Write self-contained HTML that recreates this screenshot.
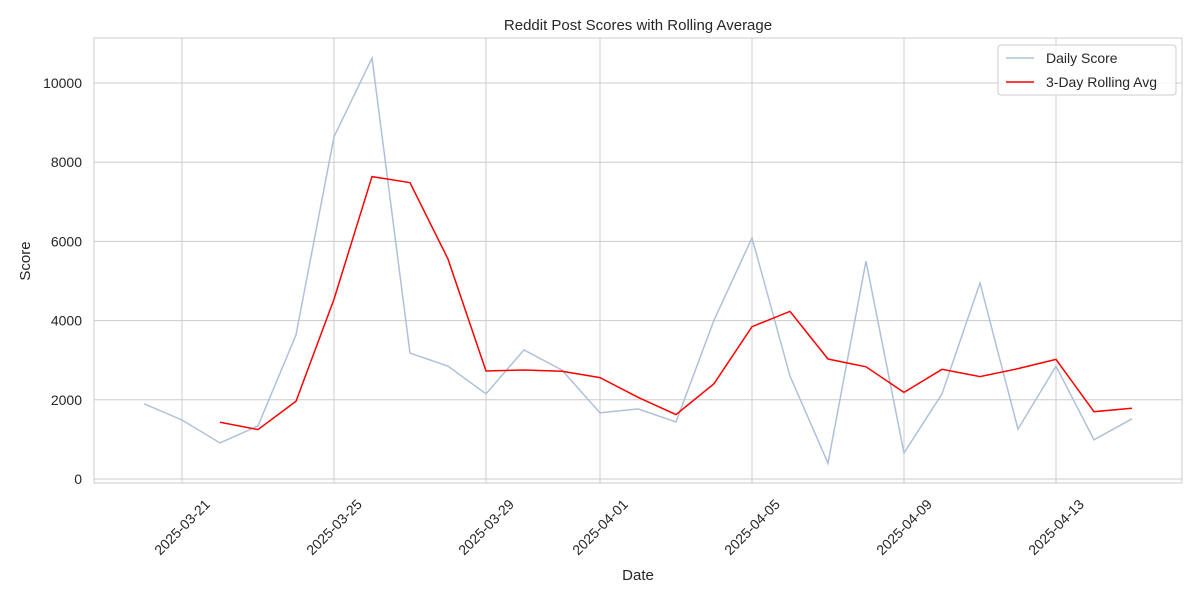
<!DOCTYPE html>
<html><head><meta charset="utf-8"><style>
body{margin:0;background:#fff;font-family:"Liberation Sans","DejaVu Sans",sans-serif;}
svg text{font-family:"Liberation Sans","DejaVu Sans",sans-serif;fill:#262626;}
</style></head><body>
<svg id="chart" width="1200" height="600" xmlns="http://www.w3.org/2000/svg">
<rect width="1200" height="600" fill="#fff"/>
<text x="638" y="30" font-size="15" text-anchor="middle">Reddit Post Scores with Rolling Average</text>
<g id="grid"></g>
<rect x="94" y="38" width="1088" height="445" fill="none" stroke="#ccc" stroke-width="1"/>
<g id="marks"></g>
<g id="axes"></g>
<text x="638" y="580" font-size="15" text-anchor="middle">Date</text>
<text x="30" y="261" font-size="15" text-anchor="middle" transform="rotate(-90 30 261)">Score</text>
<g>
<rect x="998" y="45" width="178" height="50" rx="3" fill="#fff" fill-opacity="0.8" stroke="#ccc"/>
<line x1="1006" y1="58" x2="1034" y2="58" stroke="#b0c0da" stroke-width="1.5"/>
<text x="1046" y="63" font-size="14">Daily Score</text>
<line x1="1006" y1="82" x2="1034" y2="82" stroke="#ff0000" stroke-width="1.5"/>
<text x="1046" y="87" font-size="14">3-Day Rolling Avg</text>
</g>
</svg>
<script>
const dates = ["2025-03-20","2025-03-21","2025-03-22","2025-03-23","2025-03-24","2025-03-25","2025-03-26","2025-03-27","2025-03-28","2025-03-29","2025-03-30","2025-03-31","2025-04-01","2025-04-02","2025-04-03","2025-04-04","2025-04-05","2025-04-06","2025-04-07","2025-04-08","2025-04-09","2025-04-10","2025-04-11","2025-04-12","2025-04-13","2025-04-14","2025-04-15"];
const dailyScores = [1900,1490,910,1340,3640,8640,10630,3180,2850,2150,3260,2750,1670,1770,1440,4010,6090,2600,400,5500,660,2150,4950,1260,2850,990,1520];
const xTickLabels = ["2025-03-21","2025-03-25","2025-03-29","2025-04-01","2025-04-05","2025-04-09","2025-04-13"];
const yTicks = [0,2000,4000,6000,8000,10000];

const NS="http://www.w3.org/2000/svg";
const t0=Date.parse(dates[0]);
function xs(d){return 144+(Date.parse(d)-t0)/86400000*38;}
function ys(v){return 479-v*0.0396;}
function mk(tag,attrs,parent){const e=document.createElementNS(NS,tag);for(const k in attrs)e.setAttribute(k,attrs[k]);parent.appendChild(e);return e;}
const grid=document.getElementById('grid'),marks=document.getElementById('marks'),axes=document.getElementById('axes');
yTicks.forEach(v=>{
  const y=ys(v);
  const l=mk('line',{x1:94,x2:1182,y1:y,y2:y,stroke:'#ccc','stroke-width':1},grid);
  
  
  const t=mk('text',{x:82,y:y+5,'font-size':14,'text-anchor':'end'},axes);
  t.textContent=v;
  
  
});
xTickLabels.forEach(d=>{
  const x=xs(d);
  const l=mk('line',{x1:x,x2:x,y1:38,y2:483,stroke:'#ccc','stroke-width':1},grid);
  
  
  const cy=532;
  const t=mk('text',{x:x,y:cy,'font-size':14,'text-anchor':'middle',transform:`rotate(-45 ${x} ${cy-5})`},axes);
  t.textContent=d;
  
  
});
const daily=mk('polyline',{points:dates.map((d,i)=>xs(d)+','+ys(dailyScores[i])).join(' '),fill:'none',stroke:'#b0c0da','stroke-width':1.5},marks);


const rollPts=[];
for(let i=2;i<dates.length;i++){const a=(dailyScores[i]+dailyScores[i-1]+dailyScores[i-2])/3;rollPts.push(xs(dates[i])+','+ys(a));}
const roll=mk('polyline',{points:rollPts.join(' '),fill:'none',stroke:'#ff0000','stroke-width':1.5},marks);


</script>
</body></html>
